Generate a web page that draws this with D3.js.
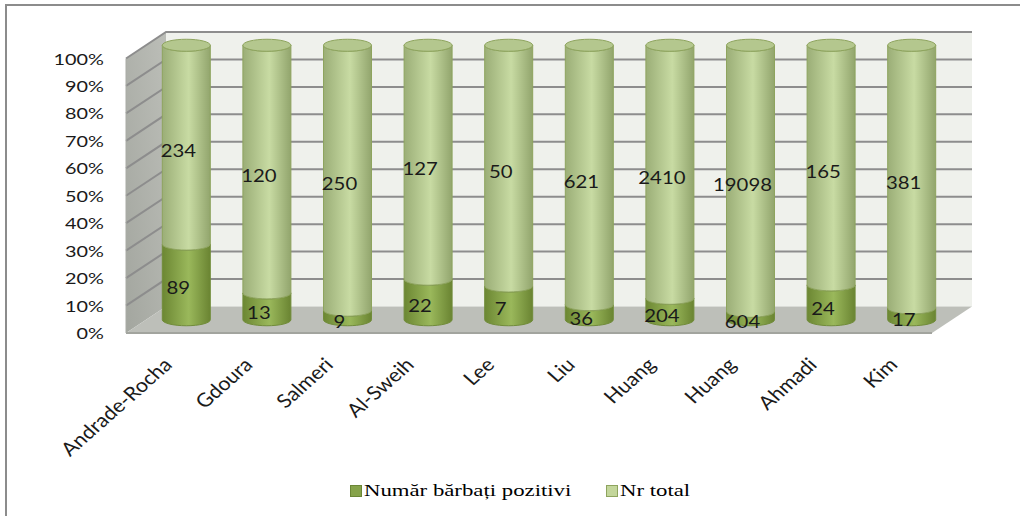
<!DOCTYPE html>
<html>
<head>
<meta charset="utf-8">
<script src="https://cdn.jsdelivr.net/npm/d3@7"></script>
<style>
  body { margin: 0; background: #fff; }
  svg { display: block; }
</style>
</head>
<body>
<script>
  // authors / studies
  var categories = ['Andrade-Rocha', 'Gdoura', 'Salmeri', 'Al-Sweih', 'Lee', 'Liu', 'Huang', 'Huang', 'Ahmadi', 'Kim'];
  var positives = [89, 13, 9, 22, 7, 36, 204, 604, 24, 17];
  var totals = [234, 120, 250, 127, 50, 621, 2410, 19098, 165, 381];
  var seriesNames = ['Număr bărbați pozitivi', 'Nr total'];
  var yTicks = [0, 0.1, 0.2, 0.3, 0.4, 0.5, 0.6, 0.7, 0.8, 0.9, 1];

  var width = 1020, height = 516;
  var depthX = 40, depthY = -26.5;   // back wall offset from front plane

  var svg = d3.select('body').append('svg')
    .attr('width', width)
    .attr('height', height);

  var defs = svg.append('defs');

  function cylGrad(id, edgeL, mid, edgeR) {
    var g = defs.append('linearGradient').attr('id', id)
      .attr('x1', '0%').attr('x2', '100%').attr('y1', '0%').attr('y2', '0%');
    g.append('stop').attr('offset', '0%').attr('stop-color', edgeL);
    g.append('stop').attr('offset', '55%').attr('stop-color', mid);
    g.append('stop').attr('offset', '100%').attr('stop-color', edgeR);
  }
  cylGrad('gDark', '#6c8733', '#9ab85b', '#6a8432');
  cylGrad('gLight', '#9bae77', '#c8dba3', '#92a56d');

  var wallGrad = defs.append('linearGradient').attr('id', 'gSide')
    .attr('x1', '0%').attr('x2', '100%').attr('y1', '100%').attr('y2', '0%');
  wallGrad.append('stop').attr('offset', '0%').attr('stop-color', '#a3a69f');
  wallGrad.append('stop').attr('offset', '100%').attr('stop-color', '#bcbeb8');

  // outer frame (only top and left visible)
  svg.append('path')
    .attr('d', 'M6,' + height + ' V5 H' + width)
    .attr('fill', 'none')
    .attr('stroke', '#8c8c8c')
    .attr('stroke-width', 2);

  var x = d3.scaleBand()
    .domain(d3.range(categories.length))
    .range([126, 932]);

  var y = d3.scaleLinear()
    .domain([0, 1])
    .range([333, 58.5]);

  var bx0 = x.range()[0] + depthX, bx1 = x.range()[1] + depthX;
  var fx0 = x.range()[0], fx1 = x.range()[1];

  // back wall
  svg.append('rect')
    .attr('x', bx0).attr('y', y(1) + depthY)
    .attr('width', bx1 - bx0).attr('height', y(0) - y(1))
    .attr('fill', '#eff1ec');

  // side wall
  svg.append('path')
    .attr('d', 'M' + fx0 + ',' + y(1) + ' L' + bx0 + ',' + (y(1) + depthY) +
      ' L' + bx0 + ',' + (y(0) + depthY) + ' L' + fx0 + ',' + y(0) + 'Z')
    .attr('fill', 'url(#gSide)');

  // floor
  svg.append('path')
    .attr('d', 'M' + fx0 + ',' + y(0) + ' L' + bx0 + ',' + (y(0) + depthY) +
      ' L' + bx1 + ',' + (y(0) + depthY) + ' L' + fx1 + ',' + y(0) + 'Z')
    .attr('fill', '#bdbfb9');
  svg.append('line')
    .attr('x1', fx0).attr('x2', fx1)
    .attr('y1', y(0)).attr('y2', y(0))
    .attr('stroke', '#a2a49e').attr('stroke-width', 2);

  // gridlines: side wall + back wall
  var grid = svg.append('g')
    .attr('fill', 'none')
    .attr('stroke', '#8d8d8d')
    .attr('stroke-width', 2);
  grid.selectAll('path.grid')
    .data(yTicks.filter(function (d) { return d > 0; }))
    .enter().append('path')
    .attr('class', 'grid')
    .attr('d', function (d) {
      return 'M' + fx0 + ',' + y(d) + ' L' + bx0 + ',' + (y(d) + depthY) + ' H' + bx1;
    });
  grid.append('path')
    .attr('stroke-width', 1)
    .attr('stroke', '#a9aba5')
    .attr('d', 'M' + fx0 + ',' + y(1) + ' V' + y(0));

  // cylinders sit at half depth
  var rx = 24, ry = 6;
  function cx(i) { return x(i) + x.bandwidth() / 2 + depthX / 2; }
  function ym(v) { return y(v) + depthY / 2; }

  function bodyPath(c, yTop, yBot) {
    return 'M' + (c - rx) + ',' + yTop +
      ' A' + rx + ',' + ry + ' 0 0 0 ' + (c + rx) + ',' + yTop +
      ' L' + (c + rx) + ',' + yBot +
      ' A' + rx + ',' + ry + ' 0 0 1 ' + (c - rx) + ',' + yBot + 'Z';
  }

  var stacks = categories.map(function (name, i) {
    var sum = positives[i] + totals[i];
    var p = positives[i] / sum;
    return { i: i, p: p, pos: positives[i], tot: totals[i] };
  });

  var cyl = svg.append('g').selectAll('g.cyl')
    .data(stacks)
    .enter().append('g')
    .attr('class', 'cyl');

  cyl.append('path')
    .attr('d', function (d) { return bodyPath(cx(d.i), ym(d.p), ym(0)); })
    .attr('fill', 'url(#gDark)')
    .attr('stroke', '#718c3a')
    .attr('stroke-width', 1);

  cyl.append('path')
    .attr('d', function (d) { return bodyPath(cx(d.i), ym(1), ym(d.p)); })
    .attr('fill', 'url(#gLight)')
    .attr('stroke', '#8ea45e')
    .attr('stroke-width', 1);

  cyl.append('ellipse')
    .attr('cx', function (d) { return cx(d.i); })
    .attr('cy', ym(1))
    .attr('rx', rx).attr('ry', ry)
    .attr('fill', '#b4c78e')
    .attr('stroke', '#8ea45e')
    .attr('stroke-width', 1);

  // data labels
  var labelFont = 'Lato, "Open Sans", sans-serif';
  function dataLabel(sel, xf, yf, txt) {
    sel.append('text')
      .attr('transform', function (d) { return 'translate(' + xf(d) + ',' + yf(d) + ') scale(1.13,1)'; })
      .attr('text-anchor', 'middle')
      .attr('dominant-baseline', 'central')
      .attr('font-family', labelFont)
      .attr('font-size', 18)
      .attr('fill', '#1a1a1a')
      .text(txt);
  }
  dataLabel(cyl, function (d) { return cx(d.i) - 8; },
    function (d) { return ym(d.p / 2) + 5.5; }, function (d) { return d.pos; });
  dataLabel(cyl, function (d) { return cx(d.i) - 8; },
    function (d) { return ym((1 + d.p) / 2) + 5.5; }, function (d) { return d.tot; });

  // y axis labels
  svg.append('g').selectAll('text')
    .data(yTicks)
    .enter().append('text')
    .attr('transform', function (d) { return 'translate(104,' + y(d) + ') scale(1.28,1)'; })
    .attr('text-anchor', 'end')
    .attr('dominant-baseline', 'central')
    .attr('font-family', labelFont)
    .attr('font-size', 15.5)
    .attr('fill', '#1a1a1a')
    .text(d3.format('.0%'));

  // category labels
  svg.append('g').selectAll('text')
    .data(categories)
    .enter().append('text')
    .attr('transform', function (d, i) {
      return 'translate(' + (cx(i) - 13) + ',366) scale(1.13,1) rotate(-45)';
    })
    .attr('text-anchor', 'end')
    .attr('font-family', labelFont)
    .attr('font-size', 19)
    .attr('fill', '#1a1a1a')
    .text(function (d) { return d; });

  // legend
  var legendColors = ['#86a34a', '#c3d69b'];
  var legendStroke = ['#6b8636', '#8ea45e'];
  var legendX = [350, 606];
  var legend = svg.append('g').selectAll('g')
    .data(seriesNames)
    .enter().append('g')
    .attr('transform', function (d, i) { return 'translate(' + legendX[i] + ',485)'; });
  legend.append('rect')
    .attr('x', 0.5).attr('y', 0.5)
    .attr('width', 11).attr('height', 11)
    .attr('fill', function (d, i) { return legendColors[i]; })
    .attr('stroke', function (d, i) { return legendStroke[i]; });
  legend.append('text')
    .attr('transform', 'translate(14,11) scale(1.38,1)')
    .style('font-family', "'Liberation Serif', 'Times New Roman', serif")
    .attr('font-size', 16.5)
    .attr('fill', '#000')
    .text(function (d) { return d; });
</script>
</body>
</html>
